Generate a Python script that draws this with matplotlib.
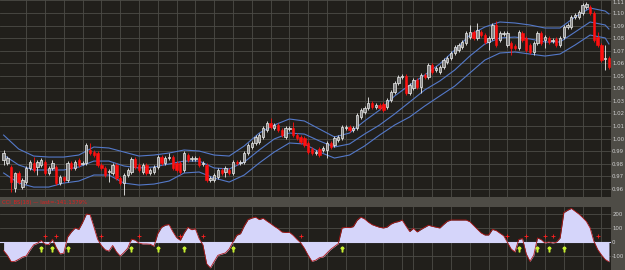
import numpy as np
import matplotlib
matplotlib.use("Agg")
import matplotlib.pyplot as plt

# ---- price data (one bar per day) ----
OPEN = [0.9829, 0.9806, 0.9774, 0.9606, 0.9726, 0.9614, 0.9654, 0.9766, 0.9806, 0.9774,
        0.9790, 0.9813, 0.9726, 0.9766, 0.9774, 0.9646, 0.9694, 0.9670, 0.9806, 0.9766,
        0.9829, 0.9798, 0.9806, 0.9909, 0.9893, 0.9885, 0.9790, 0.9766, 0.9734, 0.9726,
        0.9790, 0.9686, 0.9646, 0.9710, 0.9734, 0.9837, 0.9790, 0.9734, 0.9790, 0.9726,
        0.9734, 0.9774, 0.9853, 0.9806, 0.9845, 0.9853, 0.9806, 0.9806, 0.9750, 0.9869,
        0.9837, 0.9837, 0.9845, 0.9798, 0.9790, 0.9670, 0.9670, 0.9694, 0.9750, 0.9734,
        0.9750, 0.9726, 0.9813, 0.9806, 0.9813, 0.9885, 0.9933, 0.9965, 0.9973, 1.0013,
        1.0068, 1.0124, 1.0084, 1.0108, 1.0068, 1.0013, 1.0076, 1.0084, 1.0028, 1.0013,
        1.0005, 0.9965, 0.9917, 0.9885, 0.9917, 0.9909, 0.9909, 0.9965, 0.9949, 0.9989,
        1.0005, 1.0084, 1.0092, 1.0068, 1.0084, 1.0172, 1.0212, 1.0243, 1.0283, 1.0251,
        1.0267, 1.0275, 1.0251, 1.0307, 1.0371, 1.0442, 1.0490, 1.0498, 1.0363, 1.0403,
        1.0466, 1.0410, 1.0506, 1.0490, 1.0586, 1.0546, 1.0530, 1.0570, 1.0609, 1.0641,
        1.0681, 1.0705, 1.0729, 1.0761, 1.0808, 1.0848, 1.0801, 1.0848, 1.0824, 1.0769,
        1.0801, 1.0904, 1.0785, 1.0832, 1.0745, 1.0761, 1.0737, 1.0721, 1.0840, 1.0801,
        1.0745, 1.0689, 1.0761, 1.0840, 1.0785, 1.0801, 1.0777, 1.0793, 1.0745, 1.0808,
        1.0888, 1.0888, 1.0968, 1.0968, 1.0999, 1.1047, 1.1047, 1.0999, 1.0808, 1.0745,
        1.0633, 1.0641]
HIGH = [0.9909, 0.9861, 0.9790, 0.9734, 0.9742, 0.9686, 0.9782, 0.9829, 0.9853, 0.9829,
        0.9845, 0.9829, 0.9782, 0.9829, 0.9790, 0.9710, 0.9702, 0.9821, 0.9821, 0.9829,
        0.9845, 0.9821, 0.9965, 0.9965, 0.9909, 0.9901, 0.9806, 0.9782, 0.9758, 0.9806,
        0.9806, 0.9702, 0.9726, 0.9766, 0.9853, 0.9853, 0.9806, 0.9806, 0.9806, 0.9766,
        0.9790, 0.9869, 0.9869, 0.9861, 0.9885, 0.9869, 0.9821, 0.9821, 0.9901, 0.9885,
        0.9861, 0.9861, 0.9861, 0.9821, 0.9806, 0.9702, 0.9726, 0.9766, 0.9766, 0.9782,
        0.9766, 0.9829, 0.9829, 0.9829, 0.9901, 0.9965, 0.9981, 1.0028, 1.0044, 1.0100,
        1.0140, 1.0164, 1.0124, 1.0124, 1.0084, 1.0100, 1.0100, 1.0132, 1.0044, 1.0028,
        1.0020, 0.9981, 0.9933, 0.9909, 0.9933, 0.9941, 0.9981, 0.9981, 1.0020, 1.0028,
        1.0108, 1.0108, 1.0108, 1.0100, 1.0204, 1.0243, 1.0259, 1.0331, 1.0299, 1.0283,
        1.0283, 1.0291, 1.0323, 1.0387, 1.0458, 1.0506, 1.0514, 1.0514, 1.0442, 1.0482,
        1.0482, 1.0522, 1.0522, 1.0602, 1.0602, 1.0578, 1.0586, 1.0641, 1.0657, 1.0697,
        1.0745, 1.0761, 1.0785, 1.0856, 1.0904, 1.0864, 1.0920, 1.0864, 1.0840, 1.0816,
        1.0920, 1.0936, 1.0856, 1.0856, 1.0856, 1.0777, 1.0753, 1.0864, 1.0856, 1.0816,
        1.0761, 1.0777, 1.0856, 1.0856, 1.0824, 1.0816, 1.0801, 1.0808, 1.0816, 1.0904,
        1.0920, 1.0984, 1.0999, 1.1023, 1.1079, 1.1087, 1.1063, 1.1015, 1.0848, 1.0761,
        1.0745, 1.0657]
LOW = [0.9790, 0.9790, 0.9575, 0.9575, 0.9638, 0.9599, 0.9638, 0.9750, 0.9734, 0.9710,
       0.9774, 0.9710, 0.9710, 0.9750, 0.9630, 0.9630, 0.9654, 0.9654, 0.9750, 0.9750,
       0.9774, 0.9790, 0.9790, 0.9869, 0.9853, 0.9774, 0.9750, 0.9694, 0.9654, 0.9710,
       0.9670, 0.9630, 0.9551, 0.9694, 0.9718, 0.9758, 0.9734, 0.9718, 0.9710, 0.9710,
       0.9718, 0.9758, 0.9790, 0.9790, 0.9829, 0.9750, 0.9734, 0.9718, 0.9734, 0.9813,
       0.9821, 0.9821, 0.9774, 0.9782, 0.9654, 0.9654, 0.9654, 0.9678, 0.9710, 0.9694,
       0.9710, 0.9710, 0.9790, 0.9790, 0.9798, 0.9869, 0.9917, 0.9949, 0.9957, 0.9997,
       1.0052, 1.0076, 1.0068, 1.0052, 1.0013, 0.9997, 1.0060, 1.0013, 0.9989, 0.9957,
       0.9933, 0.9877, 0.9869, 0.9869, 0.9853, 0.9893, 0.9845, 0.9917, 0.9933, 0.9973,
       0.9989, 1.0068, 1.0052, 1.0052, 1.0068, 1.0156, 1.0196, 1.0227, 1.0235, 1.0235,
       1.0227, 1.0212, 1.0235, 1.0291, 1.0355, 1.0426, 1.0474, 1.0347, 1.0347, 1.0387,
       1.0395, 1.0363, 1.0474, 1.0474, 1.0514, 1.0530, 1.0514, 1.0554, 1.0594, 1.0625,
       1.0665, 1.0689, 1.0713, 1.0745, 1.0793, 1.0785, 1.0785, 1.0808, 1.0753, 1.0705,
       1.0785, 1.0729, 1.0769, 1.0816, 1.0729, 1.0665, 1.0705, 1.0705, 1.0769, 1.0689,
       1.0673, 1.0665, 1.0745, 1.0745, 1.0721, 1.0753, 1.0761, 1.0729, 1.0729, 1.0793,
       1.0872, 1.0872, 1.0952, 1.0952, 1.0984, 1.1031, 1.0984, 1.0769, 1.0729, 1.0609,
       1.0546, 1.0554]
CLOSE = [0.9885, 0.9845, 0.9654, 0.9726, 0.9654, 0.9670, 0.9766, 0.9813, 0.9750, 0.9813,
         0.9829, 0.9726, 0.9766, 0.9806, 0.9646, 0.9694, 0.9670, 0.9806, 0.9766, 0.9813,
         0.9790, 0.9806, 0.9949, 0.9885, 0.9869, 0.9790, 0.9766, 0.9710, 0.9742, 0.9790,
         0.9686, 0.9646, 0.9710, 0.9750, 0.9837, 0.9774, 0.9750, 0.9790, 0.9726, 0.9750,
         0.9774, 0.9853, 0.9806, 0.9845, 0.9853, 0.9766, 0.9750, 0.9734, 0.9885, 0.9829,
         0.9845, 0.9845, 0.9790, 0.9806, 0.9670, 0.9686, 0.9710, 0.9750, 0.9726, 0.9766,
         0.9726, 0.9813, 0.9806, 0.9813, 0.9885, 0.9949, 0.9965, 1.0013, 1.0028, 1.0084,
         1.0124, 1.0092, 1.0108, 1.0068, 1.0028, 1.0084, 1.0084, 1.0028, 1.0005, 0.9973,
         0.9949, 0.9893, 0.9885, 0.9893, 0.9869, 0.9925, 0.9965, 0.9933, 1.0005, 1.0013,
         1.0092, 1.0092, 1.0068, 1.0084, 1.0188, 1.0227, 1.0243, 1.0283, 1.0251, 1.0267,
         1.0243, 1.0227, 1.0307, 1.0371, 1.0442, 1.0490, 1.0498, 1.0363, 1.0426, 1.0466,
         1.0410, 1.0506, 1.0490, 1.0586, 1.0530, 1.0562, 1.0570, 1.0625, 1.0641, 1.0681,
         1.0729, 1.0745, 1.0769, 1.0840, 1.0848, 1.0801, 1.0864, 1.0824, 1.0769, 1.0801,
         1.0904, 1.0745, 1.0840, 1.0840, 1.0840, 1.0721, 1.0721, 1.0848, 1.0785, 1.0705,
         1.0689, 1.0761, 1.0840, 1.0761, 1.0808, 1.0769, 1.0785, 1.0745, 1.0801, 1.0888,
         1.0904, 1.0968, 1.0984, 1.1007, 1.1063, 1.1071, 1.0999, 1.0785, 1.0745, 1.0625,
         1.0641, 1.0570]

# ---- envelope lines, read every 4 bars ----
BAND_IDX = [0, 4, 8, 12, 16, 20, 24, 28, 32, 36, 40, 44, 48, 52, 56, 60, 64, 68, 72, 76,
            80, 84, 88, 92, 96, 100, 104, 108, 112, 116, 120, 124, 128, 132, 136, 140, 144,
            148, 152, 156, 160, 161]
BAND_UP = [1.0028, 0.9917, 0.9861, 0.9853, 0.9853, 0.9869, 0.9933, 0.9925, 0.9893, 0.9861,
           0.9869, 0.9885, 0.9909, 0.9901, 0.9869, 0.9861, 0.9941, 1.0044, 1.0108, 1.0156,
           1.0140, 1.0076, 1.0013, 1.0044, 1.0140, 1.0227, 1.0339, 1.0426, 1.0506, 1.0594,
           1.0705, 1.0824, 1.0888, 1.0928, 1.0920, 1.0904, 1.0880, 1.0880, 1.0968, 1.1039,
           1.1015, 1.0992]
BAND_MID = [0.9869, 0.9790, 0.9750, 0.9750, 0.9750, 0.9774, 0.9821, 0.9821, 0.9782, 0.9766,
            0.9774, 0.9798, 0.9821, 0.9821, 0.9766, 0.9758, 0.9813, 0.9909, 0.9997, 1.0044,
            1.0036, 0.9981, 0.9933, 0.9957, 1.0036, 1.0108, 1.0196, 1.0291, 1.0387, 1.0458,
            1.0546, 1.0657, 1.0753, 1.0801, 1.0808, 1.0793, 1.0769, 1.0769, 1.0848, 1.0928,
            1.0904, 1.0872]
BAND_LO = [0.9726, 0.9646, 0.9614, 0.9614, 0.9646, 0.9662, 0.9710, 0.9710, 0.9646, 0.9630,
           0.9638, 0.9662, 0.9726, 0.9734, 0.9686, 0.9654, 0.9710, 0.9806, 0.9893, 0.9965,
           0.9957, 0.9893, 0.9845, 0.9869, 0.9941, 1.0028, 1.0108, 1.0172, 1.0259, 1.0339,
           1.0418, 1.0522, 1.0625, 1.0681, 1.0689, 1.0673, 1.0657, 1.0673, 1.0745, 1.0824,
           1.0801, 1.0753]

# ---- CCI(18) per bar ----
CCI = [-62, -95, -140, -138, -124, -108, -100, -58, -20, -9,
       12, -15, -18, 20, -40, -85, -80, 35, 72, 100,
       90, 140, 200, 195, 110, 20, -25, -55, -65, -25,
       -70, -100, -75, -45, 20, 14, -8, -14, -14, -16,
       -30, 60, 105, 120, 125, 75, 32, 12, 65, 105,
       88, 95, 25, -20, -155, -185, -140, -95, -86, -78,
       -50, 0, 48, 60, 115, 160, 171, 178, 160, 170,
       150, 132, 112, 95, 72, 68, 70, 48, 20, -5,
       -45, -95, -138, -130, -112, -106, -79, -52, -32, -12,
       100, 105, 103, 110, 155, 178, 165, 142, 124, 114,
       105, 100, 107, 128, 140, 146, 157, 115, 75, 98,
       72, 90, 105, 120, 112, 106, 100, 125, 148, 157,
       157, 157, 157, 157, 145, 118, 90, 65, 50, 50,
       90, 82, 63, 45, -2, -50, -71, 18, 25, -85,
       -138, -95, 29, 17, -7, 0, -7, -2, 29, 210,
       227, 240, 220, 200, 175, 147, 100, 5, -53, -92,
       -125, -141]
SELL_BARS = [11, 14, 26, 36, 47, 53, 79, 134, 139, 144, 146, 158]
BUY_BARS = [10, 13, 17, 34, 41, 48, 61, 90, 137, 142, 145, 149]

PRICE_TICKS = [0.96, 0.97, 0.98, 0.99, 1.00, 1.01, 1.02, 1.03, 1.04, 1.05, 1.06, 1.07,
               1.08, 1.09, 1.10, 1.11]
CCI_TICKS = [-100, 0, 100, 200]
LABEL = "CCI_BS(18) \u2014 last=-141.1379%"

# ---- colours ----
BG = "#211f1b"
PANEL = "#4e4c46"
GRID = "#4d4c47"
BAND = "#5479c9"
UP_FACE = "#858585"
UP_EDGE = "#eeeeee"
DOWN = "#ff1010"
TXT = "#d0d0d0"

# vertical grid positions (bar index)
GRID_BARS = [6, 11, 16, 21, 26, 31, 36, 41, 46, 51, 56, 61, 66, 71, 76, 81, 86, 91, 96,
             101, 106, 109, 114, 119, 124, 129, 134, 139, 144, 149, 154, 159]

W, H = 625, 270
fig = plt.figure(figsize=(W / 100, H / 100), dpi=100)
fig.patch.set_facecolor(PANEL)

ax = fig.add_axes([0, 1 - 197 / H, 611 / W, 197 / H])
ax2 = fig.add_axes([0, 0, 611 / W, 63 / H])

xmin, xmax = -0.96, 161.55
x = np.arange(len(CLOSE))
o = np.array(OPEN)
c = np.array(CLOSE)
up = c >= o

for a in (ax, ax2):
    a.set_facecolor(BG)
    a.set_xlim(xmin, xmax)
    for s in a.spines.values():
        s.set_visible(False)
    a.tick_params(axis="x", bottom=False, labelbottom=False)
    a.yaxis.tick_right()
    a.tick_params(axis="y", length=0, pad=0.8, labelsize=3.9, colors=TXT)
    for g in GRID_BARS:
        a.axvline(g, color=GRID, lw=0.6, zorder=0)

# -------- price panel --------
ax.set_ylim(0.9535, 1.1103)
ax.set_yticks(PRICE_TICKS)
ax.set_yticklabels(["%.2f" % t for t in PRICE_TICKS])
ax.get_yticklabels()[-1].set_va("top")
for t in PRICE_TICKS:
    ax.axhline(t, color=GRID, lw=0.6, zorder=0)

ax.plot(BAND_IDX, BAND_UP, color=BAND, lw=0.8, zorder=2)
ax.plot(BAND_IDX, BAND_MID, color=BAND, lw=0.8, zorder=2)
ax.plot(BAND_IDX, BAND_LO, color=BAND, lw=0.8, zorder=2)

ax.vlines(x[up], np.array(LOW)[up], np.array(HIGH)[up], color=UP_EDGE, lw=0.6, zorder=3)
ax.vlines(x[~up], np.array(LOW)[~up], np.array(HIGH)[~up], color=DOWN, lw=0.6, zorder=3)
ax.bar(x[up], np.maximum(c[up] - o[up], 0.0003), bottom=o[up], width=0.62,
       color=UP_FACE, edgecolor=UP_EDGE, lw=0.5, zorder=4)
ax.bar(x[~up], o[~up] - c[~up], bottom=c[~up], width=0.62,
       color=DOWN, edgecolor=DOWN, lw=0.4, zorder=4)

# -------- CCI panel --------
cci = np.array(CCI)
ax2.set_ylim(-200, 250)
ax2.set_yticks(CCI_TICKS)
ax2.set_yticklabels([str(t) for t in CCI_TICKS])
for t in [-100, 100, 200]:
    ax2.axhline(t, color=GRID, lw=0.6, zorder=0)
ax2.fill_between(x, 0, cci, color="#d5d5fa", lw=0, zorder=2)
ax2.axhline(0, color="#d5d5fa", lw=0.8, zorder=2)
ax2.plot(x, cci, color="#b01818", lw=0.6, zorder=3)
ax2.plot(SELL_BARS, [40] * len(SELL_BARS), "+", color="#ff2020", ms=3, mew=0.6, zorder=4)
ax2.plot(BUY_BARS, [-50] * len(BUY_BARS), marker="$\u2191$", ls="none",
         color="#c8f030", ms=3.5, zorder=4)

fig.text(2 / W, 1 - 202 / H, LABEL, color="#e02020", fontsize=3.9, va="center")

fig.savefig("out.png", dpi=100, facecolor=fig.get_facecolor())
